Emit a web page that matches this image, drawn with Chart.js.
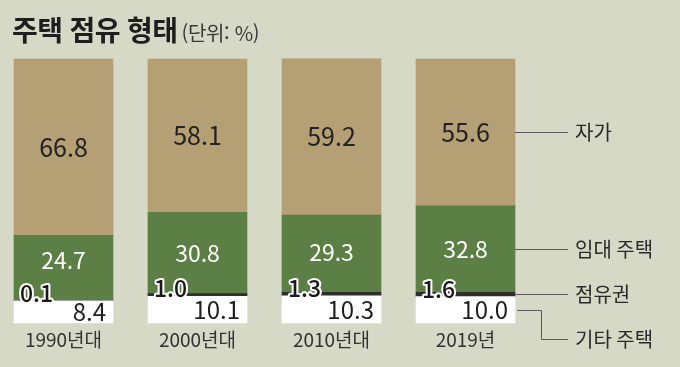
<!DOCTYPE html>
<html lang="ko">
<head>
<meta charset="utf-8">
<script src="https://cdn.jsdelivr.net/npm/chart.js@4"></script>
<style>
  html, body { margin: 0; padding: 0; background: #d5d9c6; }
  #wrap { position: relative; width: 680px; height: 367px; }
  #title { position: absolute; left: 12px; top: 9px; font-family: "Noto Sans CJK KR", sans-serif;
    color: #1e1e1e; white-space: nowrap; }
  #title b { font-size: 28px; font-weight: 700; letter-spacing: -0.6px; }
  #title span { font-size: 20px; color: #3a3a3a; letter-spacing: -0.3px; margin-left: 4px; }
  canvas { position: absolute; left: 0; top: 0; }
</style>
</head>
<body>
<div id="wrap">
  <canvas id="c" width="680" height="367"></canvas>
  <div id="title"><b>주택 점유 형태</b><span>(단위: %)</span></div>
</div>
<script>
  // 데이터
  var periods = ['1990년대', '2000년대', '2010년대', '2019년'];
  var seriesNames = ['기타 주택', '점유권', '임대 주택', '자가'];
  var etcHousing = [8.4, 10.1, 10.3, 10.0];
  var occupancyRight = [0.1, 1.0, 1.3, 1.6];
  var rental = [24.7, 30.8, 29.3, 32.8];
  var owned = [66.8, 58.1, 59.2, 55.6];

  var FONT = '"Noto Sans CJK KR", sans-serif';
  var colors = ['#ffffff', '#2e2e2e', '#5b7f45', '#b5a075'];

  var labelPlugin = {
    id: 'labels',
    afterDatasetsDraw: function (chart) {
      var ctx = chart.ctx;
      var metas = [0, 1, 2, 3].map(function (i) { return chart.getDatasetMeta(i); });
      ctx.save();
      periods.forEach(function (p, i) {
        var white = metas[0].data[i], dark = metas[1].data[i], green = metas[2].data[i], tan = metas[3].data[i];
        var left = white.x - white.width / 2, right = white.x + white.width / 2;

        // 자가
        ctx.fillStyle = '#222';
        ctx.font = '25px ' + FONT;
        ctx.textAlign = 'center';
        ctx.textBaseline = 'middle';
        ctx.fillText(owned[i].toFixed(1), tan.x, (tan.y + tan.base) / 2);

        // 임대 주택
        ctx.fillStyle = '#fff';
        ctx.font = '23px ' + FONT;
        var gy = Math.min((green.y + green.base) / 2, dark.y - 40);
        ctx.fillText(rental[i].toFixed(1), green.x, gy);

        // 기타 주택
        ctx.fillStyle = '#1e1e1e';
        ctx.font = '24px ' + FONT;
        ctx.textAlign = 'right';
        ctx.fillText(etcHousing[i].toFixed(1), right - 7, (white.y + white.base) / 2);

        // 점유권 (외곽선 텍스트)
        ctx.font = '500 23px ' + FONT;
        ctx.textAlign = 'left';
        ctx.textBaseline = 'alphabetic';
        ctx.lineJoin = 'round';
        ctx.lineWidth = 4;
        ctx.strokeStyle = '#fff';
        ctx.strokeText(occupancyRight[i].toFixed(1), left + 6, white.y + 1);
        ctx.fillStyle = '#1a1a1a';
        ctx.fillText(occupancyRight[i].toFixed(1), left + 6, white.y + 1);

        // 범주 라벨
        ctx.fillStyle = '#333';
        ctx.font = '19px ' + FONT;
        ctx.textAlign = 'center';
        ctx.textBaseline = 'middle';
        ctx.fillText(p, white.x, 340);
      });

      // 오른쪽 범례 (마지막 막대 기준)
      var last = periods.length - 1;
      var w = metas[0].data[last], d = metas[1].data[last], g = metas[2].data[last], t = metas[3].data[last];
      var barRight = w.x + w.width / 2;
      var lineEnd = 568, textX = 575;
      ctx.strokeStyle = '#5a5a5a';
      ctx.lineWidth = 1;
      ctx.fillStyle = '#2a2a2a';
      ctx.font = '20px ' + FONT;
      ctx.textAlign = 'left';
      ctx.textBaseline = 'middle';

      function hline(y, label) {
        y = Math.round(y) + 0.5;
        ctx.beginPath();
        ctx.moveTo(barRight, y);
        ctx.lineTo(lineEnd, y);
        ctx.stroke();
        ctx.fillText(label, textX, y);
      }
      hline((t.y + t.base) / 2, seriesNames[3]);
      hline((g.y + g.base) / 2, seriesNames[2]);
      hline((d.y + d.base) / 2, seriesNames[1]);

      // 기타 주택: 꺾인 선
      var wy = Math.round((w.y + w.base) / 2) + 0.5;
      ctx.beginPath();
      ctx.moveTo(barRight + 2, wy);
      ctx.lineTo(541.5, wy);
      ctx.lineTo(541.5, 339.5);
      ctx.lineTo(lineEnd, 339.5);
      ctx.stroke();
      ctx.fillText(seriesNames[0], textX, 339.5);
      ctx.restore();
    }
  };

  var seriesData = [etcHousing, occupancyRight, rental, owned];

  new Chart(document.getElementById('c'), {
    type: 'bar',
    data: {
      labels: periods,
      datasets: seriesNames.map(function (name, i) {
        return {
          label: name,
          data: seriesData[i],
          backgroundColor: colors[i],
          borderWidth: 0,
          barThickness: 99,
          clip: false
        };
      })
    },
    options: {
      responsive: false,
      animation: false,
      layout: { padding: { left: 63.5, right: 214.5, top: 59, bottom: 44 } },
      plugins: { legend: { display: false }, tooltip: { enabled: false }, title: { display: false } },
      scales: {
        x: { stacked: true, display: false, offset: false, grid: { display: false } },
        y: { stacked: true, display: false, min: 0, max: 100 }
      }
    },
    plugins: [labelPlugin]
  });
</script>
</body>
</html>
